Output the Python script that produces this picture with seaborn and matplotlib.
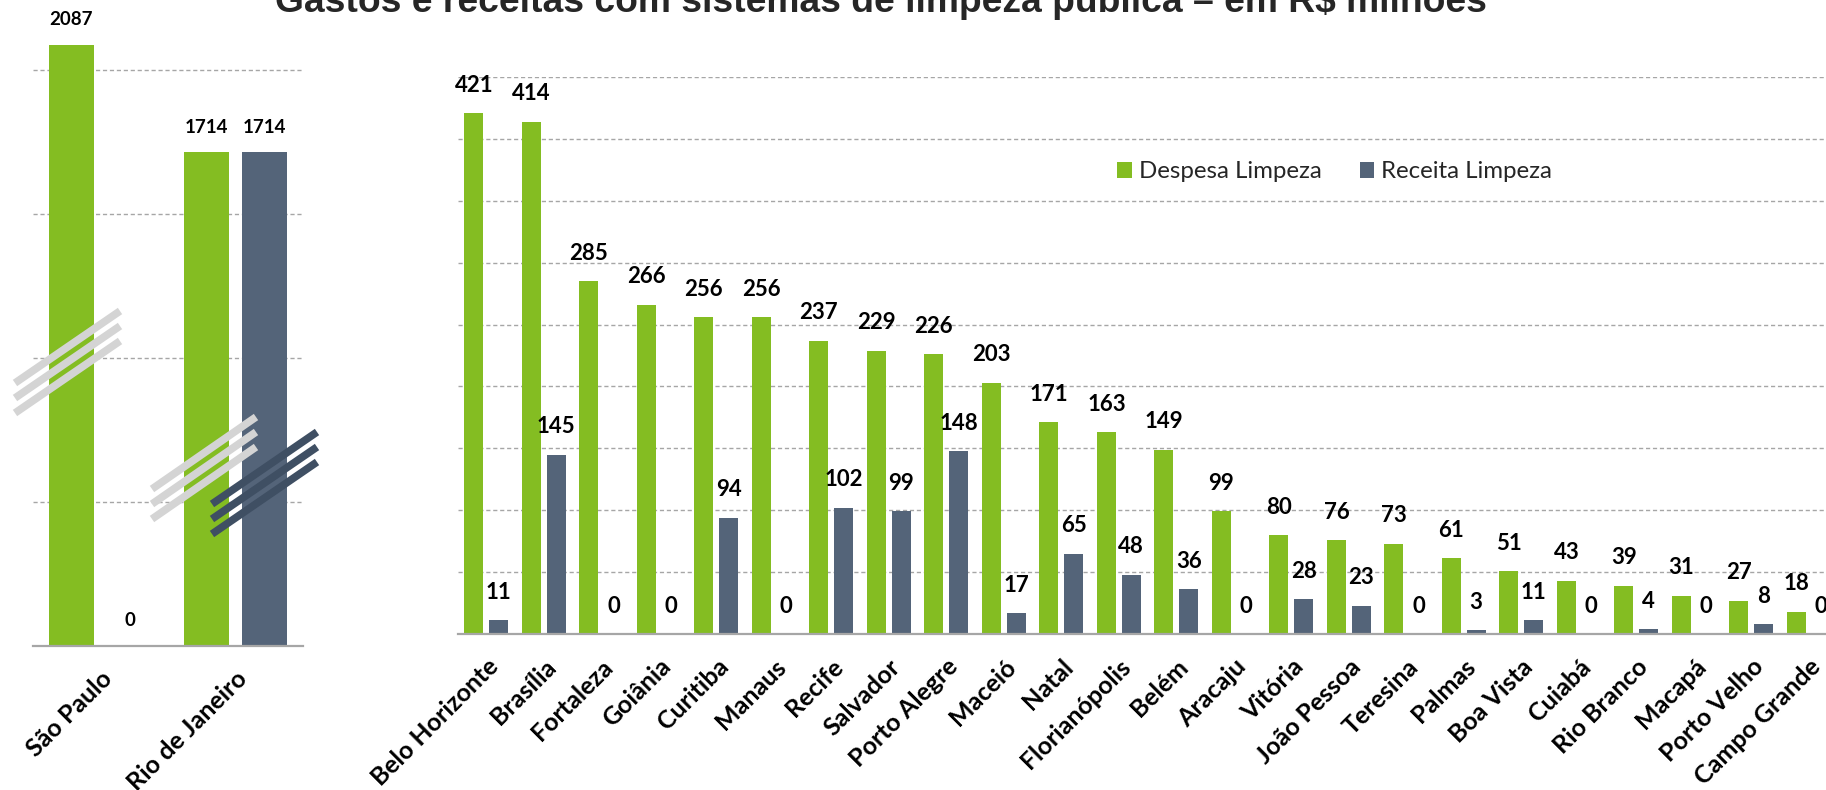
import numpy as np
import pandas as pd
import matplotlib
matplotlib.use("Agg")
import matplotlib.pyplot as plt
import seaborn as sns
from matplotlib.lines import Line2D
from matplotlib.patches import Patch

# ---------------- data ----------------
big_cities = ["São Paulo", "Rio de Janeiro"]
big_despesa = [2087, 1714]
big_receita = [0, 1714]

cities = ["Belo Horizonte", "Brasília", "Fortaleza", "Goiânia", "Curitiba", "Manaus",
          "Recife", "Salvador", "Porto Alegre", "Maceió", "Natal", "Florianópolis",
          "Belém", "Aracaju", "Vitória", "João Pessoa", "Teresina", "Palmas",
          "Boa Vista", "Cuiabá", "Rio Branco", "Macapá", "Porto Velho", "Campo Grande"]
despesa = [421, 414, 285, 266, 256, 256, 237, 229, 226, 203, 171, 163,
           149, 99, 80, 76, 73, 61, 51, 43, 39, 31, 27, 18]
receita = [11, 145, 0, 0, 94, 0, 102, 99, 148, 17, 65, 48,
           36, 0, 28, 23, 0, 3, 11, 0, 4, 0, 8, 0]

series = ["Despesa Limpeza", "Receita Limpeza"]
colors = ["#84BD22", "#546479"]
title = "Gastos e receitas com sistemas de limpeza pública – em R$ milhões"

big_ticks = [500, 1000, 1500, 2000]
small_ticks = [50, 100, 150, 200, 250, 300, 350, 400, 450]


def long_df(names, d, r):
    return pd.DataFrame({
        "cidade": list(names) * 2,
        "valor": list(d) + list(r),
        "serie": [series[0]] * len(names) + [series[1]] * len(names),
    })


df_big = long_df(big_cities, big_despesa, big_receita)
df_small = long_df(cities, despesa, receita)

# ---------------- style ----------------
sns.set_style("white")
plt.rcParams["font.family"] = ["Lato", "DejaVu Sans"]

W, H = 1826, 790
fig = plt.figure(figsize=(W / 100, H / 100), dpi=100)

GRID = "#A6A6A6"


def px_axes(x0, x1, ytop, ybot):
    return fig.add_axes([x0 / W, 1 - ybot / H, (x1 - x0) / W, (ybot - ytop) / H])


def style_axes(ax, n, yticks, ylim, lab_pad):
    ax.set_xlim(-0.5, n - 0.5)
    ax.set_ylim(*ylim)
    ax.set_yticks(yticks)
    ax.yaxis.grid(True, color=GRID, linestyle=(0, (3, 2)), linewidth=1.0)
    ax.xaxis.grid(False)
    ax.set_axisbelow(True)
    for s in ["top", "left", "right"]:
        ax.spines[s].set_visible(False)
    ax.spines["bottom"].set_color(GRID)
    ax.spines["bottom"].set_linewidth(1.6)
    ax.tick_params(axis="y", length=0, labelleft=False)
    ax.set_xticks(np.arange(-0.5, n, 1.0), minor=True)
    ax.tick_params(axis="x", which="minor", length=6, width=1.3, color=GRID, direction="out")
    ax.tick_params(axis="x", which="major", length=0, pad=lab_pad)
    for t in ax.get_xticklabels():
        t.set_rotation(45)
        t.set_ha("right")
        t.set_va("top")
        t.set_rotation_mode("anchor")
        t.set_fontsize(18)
        t.set_fontweight("bold")
        t.set_color("black")
    ax.set_xlabel("")
    ax.set_ylabel("")


def add_labels(ax, off, fs):
    for cont in ax.containers:
        for bar in cont:
            h = bar.get_height()
            ax.annotate(f"{h:.0f}", (bar.get_x() + bar.get_width() / 2, h),
                        xytext=(0, off), textcoords="offset points",
                        ha="center", va="center", fontsize=fs, fontweight="bold",
                        color="black", annotation_clip=False)


# ---------------- left panel ----------------
axL = px_axes(33, 303, 0, 646)
sns.barplot(data=df_big, x="cidade", y="valor", hue="serie", hue_order=series,
            order=big_cities, palette=colors, saturation=1, width=0.86, gap=0.23,
            linewidth=0, legend=False, ax=axL, errorbar=None)
style_axes(axL, 2, big_ticks, (0, 2000 * 646 / 576), 15)
add_labels(axL, 18, 13.5)

# ---------------- right panel ----------------
axR = px_axes(457.5, 457.5 + 24 * 57.5, 77, 634)
sns.barplot(data=df_small, x="cidade", y="valor", hue="serie", hue_order=series,
            order=cities, palette=colors, saturation=1, width=0.86, gap=0.23,
            linewidth=0, legend=False, ax=axR, errorbar=None)
style_axes(axR, 24, small_ticks, (0, 450), 15)
add_labels(axR, 20, 16)

# ---------------- axis-break stripes ----------------
def stripes(x0, y0, x1, y1, color):
    for k in range(3):
        fig.add_artist(Line2D([x0 / W, x1 / W], [1 - (y0 + 15 * k) / H, 1 - (y1 + 15 * k) / H],
                              transform=fig.transFigure, color=color, lw=5.5,
                              solid_capstyle="butt", zorder=5))


stripes(15, 383, 120, 311, "#D4D4D4")
stripes(152, 489, 256, 417, "#D4D4D4")
stripes(212, 504, 317, 432, "#3F4F63")

# ---------------- legend & title ----------------
handles = [Patch(facecolor=c, edgecolor="none") for c in colors]
fig.legend(handles, series, loc="center left", bbox_to_anchor=(1117 / W, 1 - 172 / H),
           ncol=2, frameon=False, fontsize=17.3, handlelength=0.62, handleheight=0.62,
           handletextpad=0.29, columnspacing=1.58, borderpad=0, borderaxespad=0)

fig.text(881 / W, 1 - 12 / H, title, ha="center", va="baseline", fontsize=26.8,
         fontweight="bold", family=["Liberation Sans", "DejaVu Sans"])

fig.savefig("out.png", dpi=100)
